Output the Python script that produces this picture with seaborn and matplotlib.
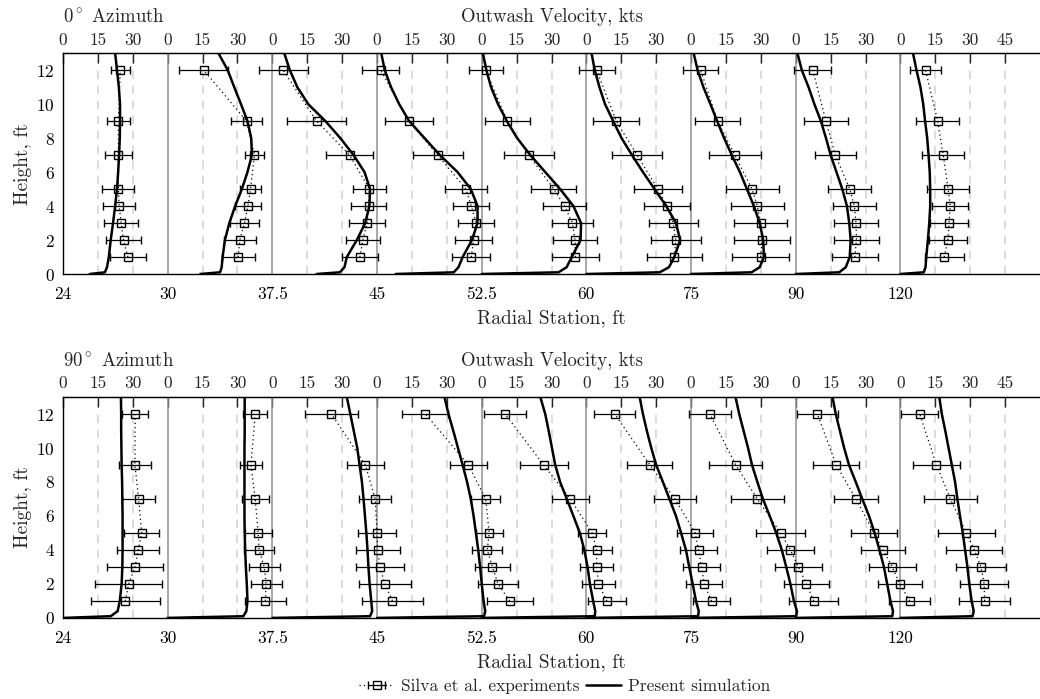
import pandas as pd
import seaborn as sns
import matplotlib.pyplot as plt
from matplotlib.lines import Line2D

sns.set_style('white')
plt.rcParams['font.family'] = ['cmr10', 'DejaVu Serif']
plt.rcParams['mathtext.fontset'] = 'cm'
plt.rcParams['axes.formatter.use_mathtext'] = True

# radial stations (ft), one velocity profile per station
stations = ['24', '30', '37.5', '45', '52.5', '60', '75', '90', '120']
seg_w = 45  # kts of axis given to each profile

# heights (ft)
h_exp = [1, 2, 3, 4, 5, 7, 9, 12]
h_sim = [0, 0.1, 0.4, 1, 2, 3, 4, 5, 6, 7, 8, 9, 10, 11, 12, 13]

# ---- 0 deg azimuth ----
exp0_v = [
    [27.9, 26.0, 25.0, 24.1, 23.8, 23.8, 23.8, 24.6],
    [30.3, 31.0, 33.0, 34.5, 35.6, 37.3, 33.9, 15.5],
    [37.6, 38.9, 40.7, 41.5, 41.7, 33.2, 19.0, 4.6],
    [40.5, 41.5, 42.6, 40.5, 38.2, 26.1, 13.6, 1.6],
    [40.3, 40.1, 39.0, 35.6, 31.0, 20.2, 11.0, 1.7],
    [37.8, 38.4, 37.3, 34.7, 30.7, 21.8, 12.8, 4.4],
    [29.9, 30.5, 29.9, 28.5, 26.2, 18.8, 11.4, 4.1],
    [25.4, 26.1, 25.9, 25.2, 23.2, 17.0, 13.0, 7.3],
    [18.8, 20.4, 20.9, 21.4, 20.5, 18.4, 16.0, 10.8],
]
exp0_e = [
    [7.8, 7.6, 7.3, 6.8, 6.9, 5.8, 4.9, 4.1],
    [7.1, 6.8, 6.4, 5.7, 4.7, 4.1, 6.8, 10.5],
    [7.8, 7.3, 7.6, 7.5, 7.1, 10.0, 12.8, 10.5],
    [8.1, 7.8, 7.8, 7.8, 9.1, 10.7, 10.3, 7.9],
    [10.0, 9.4, 9.0, 9.2, 9.7, 10.7, 9.6, 7.3],
    [11.8, 10.8, 10.6, 10.0, 10.2, 10.6, 10.0, 7.7],
    [12.1, 12.0, 11.5, 11.3, 11.4, 11.2, 9.5, 7.4],
    [9.8, 9.5, 9.5, 9.4, 9.3, 8.7, 9.3, 8.0],
    [8.4, 8.2, 8.1, 7.8, 8.9, 9.1, 9.2, 6.8],
]
sim0 = [
    [11.5, 18.0, 18.9, 19.7, 20.5, 21.5, 22.4, 23.2, 23.7, 24.1, 24.4, 24.5, 24.5, 24.0, 23.2, 22.4],
    [14.0, 22.5, 23.2, 23.6, 24.6, 26.5, 29.0, 31.9, 34.3, 36.2, 35.9, 34.3, 31.5, 28.6, 25.8, 21.8],
    [19.0, 29.0, 31.0, 32.0, 36.3, 39.9, 41.7, 42.0, 39.6, 34.9, 29.2, 22.8, 15.4, 10.7, 7.5, 5.1],
    [8.0, 33.0, 35.0, 36.8, 40.8, 43.2, 43.2, 40.3, 34.6, 27.0, 20.4, 13.8, 9.5, 6.0, 3.3, 1.8],
    [0.0, 33.0, 36.5, 38.7, 42.5, 42.7, 39.4, 33.7, 27.3, 20.9, 15.2, 10.8, 7.0, 4.0, 2.0, 0.5],
    [0.0, 31.5, 35.5, 37.8, 40.3, 38.5, 34.3, 29.3, 24.3, 19.6, 15.1, 11.5, 8.0, 5.6, 3.6, 2.2],
    [0.0, 26.0, 29.5, 31.3, 31.0, 29.5, 27.0, 24.0, 21.0, 17.5, 14.2, 11.2, 8.3, 5.3, 2.8, 1.1],
    [0.0, 18.7, 21.5, 23.2, 23.6, 23.0, 22.0, 20.0, 17.5, 15.0, 13.0, 10.8, 8.0, 5.5, 2.6, 0.7],
    [0.0, 10.0, 10.8, 11.1, 11.8, 12.4, 12.8, 12.8, 12.6, 12.1, 11.5, 10.6, 9.8, 8.6, 6.9, 5.4],
]

# ---- 90 deg azimuth ----
exp90_v = [
    [26.8, 28.2, 31.0, 32.3, 33.8, 32.5, 30.9, 31.0],
    [42.0, 42.3, 41.5, 39.3, 38.9, 37.6, 35.8, 37.6],
    [51.6, 48.4, 46.2, 45.3, 45.0, 44.2, 40.0, 25.4],
    [57.0, 52.0, 49.6, 47.4, 48.2, 46.7, 39.3, 20.8],
    [53.8, 50.2, 49.4, 49.4, 47.5, 38.1, 26.6, 10.1],
    [53.8, 50.6, 49.5, 48.2, 46.8, 38.1, 27.3, 12.2],
    [52.7, 49.6, 46.1, 42.7, 38.5, 28.5, 19.2, 8.1],
    [49.0, 44.7, 41.5, 37.5, 33.6, 25.9, 17.4, 9.3],
    [36.2, 36.0, 34.6, 31.8, 28.3, 21.5, 15.5, 8.3],
]
exp90_e = [
    [14.8, 14.4, 12.0, 9.0, 7.5, 7.1, 6.8, 5.6],
    [8.7, 6.7, 6.6, 6.6, 5.8, 5.8, 4.9, 5.3],
    [13.0, 11.2, 10.2, 9.4, 8.0, 6.8, 7.9, 11.4],
    [9.9, 8.8, 7.5, 6.5, 5.8, 6.2, 7.8, 9.9],
    [8.3, 7.3, 7.0, 6.5, 6.0, 8.0, 10.3, 9.0],
    [8.0, 7.6, 7.9, 8.0, 7.8, 9.1, 9.7, 8.9],
    [10.6, 9.8, 10.2, 10.0, 10.4, 11.4, 11.4, 8.9],
    [8.7, 9.4, 10.0, 9.6, 9.8, 9.5, 9.8, 8.8],
    [11.1, 10.3, 10.8, 12.0, 12.2, 11.4, 10.3, 8.0],
]
sim90 = [
    [0.0, 20.5, 23.5, 24.4, 25.2, 25.5, 25.6, 25.6, 25.6, 25.5, 25.4, 25.2, 25.1, 25.0, 25.0, 24.9],
    [0.0, 32.5, 33.8, 34.3, 34.0, 33.6, 33.3, 33.1, 33.0, 33.0, 33.0, 33.0, 33.0, 33.1, 33.1, 33.1],
    [0.0, 42.0, 42.9, 42.5, 41.8, 41.3, 40.9, 40.4, 39.8, 39.2, 38.5, 37.5, 36.5, 35.0, 33.5, 32.0],
    [0.0, 46.0, 46.5, 45.8, 45.0, 44.3, 43.5, 42.5, 41.5, 40.3, 38.7, 36.8, 34.8, 32.8, 30.7, 29.0],
    [0.0, 48.6, 48.8, 47.9, 46.5, 45.5, 44.1, 42.2, 39.4, 36.6, 33.7, 31.6, 30.2, 28.8, 27.3, 25.2],
    [0.0, 48.0, 48.3, 47.1, 45.7, 44.2, 42.8, 40.7, 38.5, 35.7, 32.9, 30.0, 27.9, 26.0, 24.3, 22.9],
    [0.0, 45.2, 45.5, 44.2, 42.7, 40.9, 39.0, 36.6, 33.8, 30.9, 28.5, 26.2, 24.5, 22.6, 20.7, 19.1],
    [0.0, 41.5, 41.8, 40.7, 39.3, 37.9, 36.0, 33.9, 31.5, 28.6, 25.8, 22.9, 20.8, 19.0, 17.2, 15.8],
    [0.0, 31.0, 31.5, 30.6, 29.6, 28.8, 27.8, 26.8, 25.6, 24.5, 23.5, 22.1, 20.7, 19.3, 17.8, 16.7],
]


def to_long(vals, heights, errs=None):
    rows = []
    for i, prof in enumerate(vals):
        for j, (h, v) in enumerate(zip(heights, prof)):
            e = errs[i][j] if errs is not None else 0
            rows.append((i, i * seg_w + v, h, e))
    return pd.DataFrame(rows, columns=['seg', 'x', 'h', 'err'])


def draw_panel(ax, sim, ev, ee, title):
    n = len(stations)
    for i in range(n):
        x0 = i * seg_w
        if i > 0:
            ax.axvline(x0, color='#8f8f8f', lw=1.1, zorder=1)
        for k in ([15, 30, 45] if i == n - 1 else [15, 30]):
            ax.axvline(x0 + k, color='#d6d6d6', lw=1.2, ls=(0, (5, 4)), zorder=0)

    df_sim = to_long(sim, h_sim)
    sns.lineplot(data=df_sim, x='x', y='h', units='seg', estimator=None, sort=False,
                 color='k', lw=1.8, ax=ax, legend=False, zorder=3)

    df_exp = to_long(ev, h_exp, ee)
    sns.lineplot(data=df_exp, x='x', y='h', units='seg', estimator=None, sort=False,
                 color='k', lw=0.9, ls=(0, (1, 2.5)), ax=ax, legend=False, zorder=2)
    eb = ax.errorbar(df_exp['x'], df_exp['h'], xerr=df_exp['err'], fmt='s', ms=5.5,
                     mfc='none', mec='k', mew=1.0, ecolor='k', elinewidth=0.9,
                     capsize=3, capthick=0.9, zorder=4)

    ax.set_xlim(0, 420)
    ax.set_ylim(0, 13)
    ax.set_yticks(range(0, 13, 2))
    ax.set_xticks([i * seg_w for i in range(n)], labels=stations)
    ax.tick_params(direction='in', length=7, width=1, labelsize=12.5, colors='k')
    ax.tick_params(axis='x', pad=9)
    ax.tick_params(axis='y', pad=6)
    ax.set_xlabel('Radial Station, ft', fontsize=14, labelpad=5)
    ax.set_ylabel('Height, ft', fontsize=14, labelpad=3)

    top_pos, top_lab = [], []
    for i in range(n):
        for k in ([0, 15, 30, 45] if i == n - 1 else [0, 15, 30]):
            top_pos.append(i * seg_w + k)
            top_lab.append(str(k))
    sec = ax.secondary_xaxis('top')
    sec.set_xticks(top_pos, labels=top_lab)
    sec.tick_params(direction='in', length=7, width=1, labelsize=12.5, pad=4)

    ax.annotate(title, xy=(0, 1), xycoords='axes fraction', xytext=(0, 26),
                textcoords='offset points', ha='left', va='center', fontsize=13.5)
    ax.annotate('Outwash Velocity, kts', xy=(0.5, 1), xycoords='axes fraction',
                xytext=(0, 26), textcoords='offset points', ha='center', va='center',
                fontsize=13.5)

    for s in ['top', 'bottom', 'left']:
        ax.spines[s].set_color('k')
        ax.spines[s].set_linewidth(1.0)
    ax.spines['right'].set_visible(False)
    sec.spines['top'].set_color('k')
    return eb


fig = plt.figure(figsize=(10.4, 6.99), dpi=100)
ax1 = fig.add_axes([0.0606, 0.608, 0.9394, 0.316])
ax2 = fig.add_axes([0.0606, 0.116, 0.9394, 0.316])

eb = draw_panel(ax1, sim0, exp0_v, exp0_e, r'0$^\circ$ Azimuth')
draw_panel(ax2, sim90, exp90_v, exp90_e, r'90$^\circ$ Azimuth')

h_exp_leg = (Line2D([], [], color='k', lw=0.9, ls=(0, (1, 2.5))), eb)
h_sim_leg = Line2D([], [], color='k', lw=1.8)
fig.legend([h_exp_leg, h_sim_leg], ['Silva et al. experiments', 'Present simulation'],
           loc='center', bbox_to_anchor=(0.543, 0.018), ncol=2, frameon=False,
           fontsize=12.5, handlelength=2.0, columnspacing=0.4, handletextpad=0.4,
           borderpad=0.1)

plt.savefig('out.png', dpi=100)
